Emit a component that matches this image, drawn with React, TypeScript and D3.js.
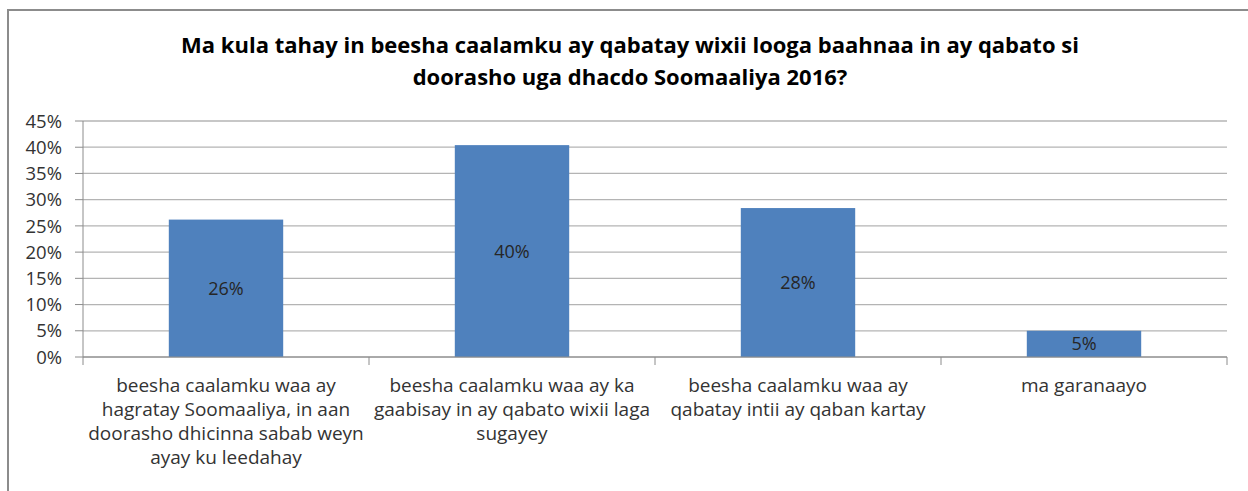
import React from "react";
import * as d3 from "d3";

const titleLines = [
  "Ma kula tahay in beesha caalamku ay qabatay wixii looga baahnaa in ay qabato si",
  "doorasho uga dhacdo Soomaaliya 2016?",
];
const categories = ["c1", "c2", "c3", "c4"];
const categoryLabels: string[][] = [
  ["beesha caalamku waa ay", "hagratay Soomaaliya, in aan", "doorasho dhicinna sabab weyn", "ayay ku leedahay"],
  ["beesha caalamku waa ay ka", "gaabisay in ay qabato wixii laga", "sugayey"],
  ["beesha caalamku waa ay", "qabatay intii ay qaban kartay"],
  ["ma garanaayo"],
];
const values = [0.262, 0.404, 0.284, 0.05];
const dataLabels = ["26%", "40%", "28%", "5%"];
const yTicks = [0, 0.05, 0.1, 0.15, 0.2, 0.25, 0.3, 0.35, 0.4, 0.45];

const W = 1248;
const H = 491;
const plot = { left: 83, right: 1227, top: 121, bottom: 357 };
const FONT = "'Open Sans', sans-serif";

export default function App() {
  const x = d3
    .scaleBand<string>()
    .domain(categories)
    .range([plot.left, plot.right])
    .paddingInner(0.6)
    .paddingOuter(0.3);
  const band = d3.scaleBand<string>().domain(categories).range([plot.left, plot.right]);
  const y = d3.scaleLinear().domain([0, 0.45]).range([plot.bottom, plot.top]);
  const fmt = d3.format(".0%");

  return (
    <svg
      width={W}
      height={H}
      style={{ position: "absolute", left: 0, top: 0, background: "#fff" }}
      fontFamily={FONT}
    >
      <rect x={8} y={10} width={1250} height={500} fill="#fff" stroke="#8c8c8c" strokeWidth={2} />
      {titleLines.map((t, i) => (
        <text
          key={i}
          x={630}
          y={53 + i * 32}
          textAnchor="middle"
          fontSize={22}
          fontWeight="bold"
          fill="#000"
        >
          {t}
        </text>
      ))}
      {yTicks.map((t) => (
        <g key={t}>
          <line x1={plot.left} x2={plot.right} y1={y(t)} y2={y(t)} stroke="#b4b4b4" strokeWidth={1.3} />
          <line x1={plot.left - 8} x2={plot.left} y1={y(t)} y2={y(t)} stroke="#8c8c8c" strokeWidth={1} />
          <text x={62} y={y(t)} dy="0.36em" textAnchor="end" fontSize={18.5} fill="#333">
            {fmt(t)}
          </text>
        </g>
      ))}
      <line x1={plot.left} x2={plot.left} y1={plot.top} y2={plot.bottom} stroke="#8c8c8c" />
      {categories.map((c, i) => (
        <rect
          key={c}
          x={x(c)}
          y={y(values[i])}
          width={x.bandwidth()}
          height={plot.bottom - y(values[i])}
          fill="#4f81bd"
        />
      ))}
      <line x1={plot.left} x2={plot.right} y1={plot.bottom} y2={plot.bottom} stroke="#8c8c8c" />
      {[...categories.map((c) => band(c)!), plot.right].map((v, i) => (
        <line key={i} x1={v} x2={v} y1={plot.bottom} y2={plot.bottom + 8} stroke="#8c8c8c" />
      ))}
      {categories.map((c, i) => (
        <text
          key={c}
          x={x(c)! + x.bandwidth() / 2}
          y={(y(values[i]) + plot.bottom) / 2}
          dy="0.36em"
          textAnchor="middle"
          fontSize={18}
          fill="#262626"
        >
          {dataLabels[i]}
        </text>
      ))}
      {categories.map((c, i) => (
        <text
          key={c}
          x={band(c)! + band.bandwidth() / 2}
          textAnchor="middle"
          fontSize={19}
          fill="#333"
        >
          {categoryLabels[i].map((l, j) => (
            <tspan key={j} x={band(c)! + band.bandwidth() / 2} y={392 + j * 24}>
              {l}
            </tspan>
          ))}
        </text>
      ))}
    </svg>
  );
}
